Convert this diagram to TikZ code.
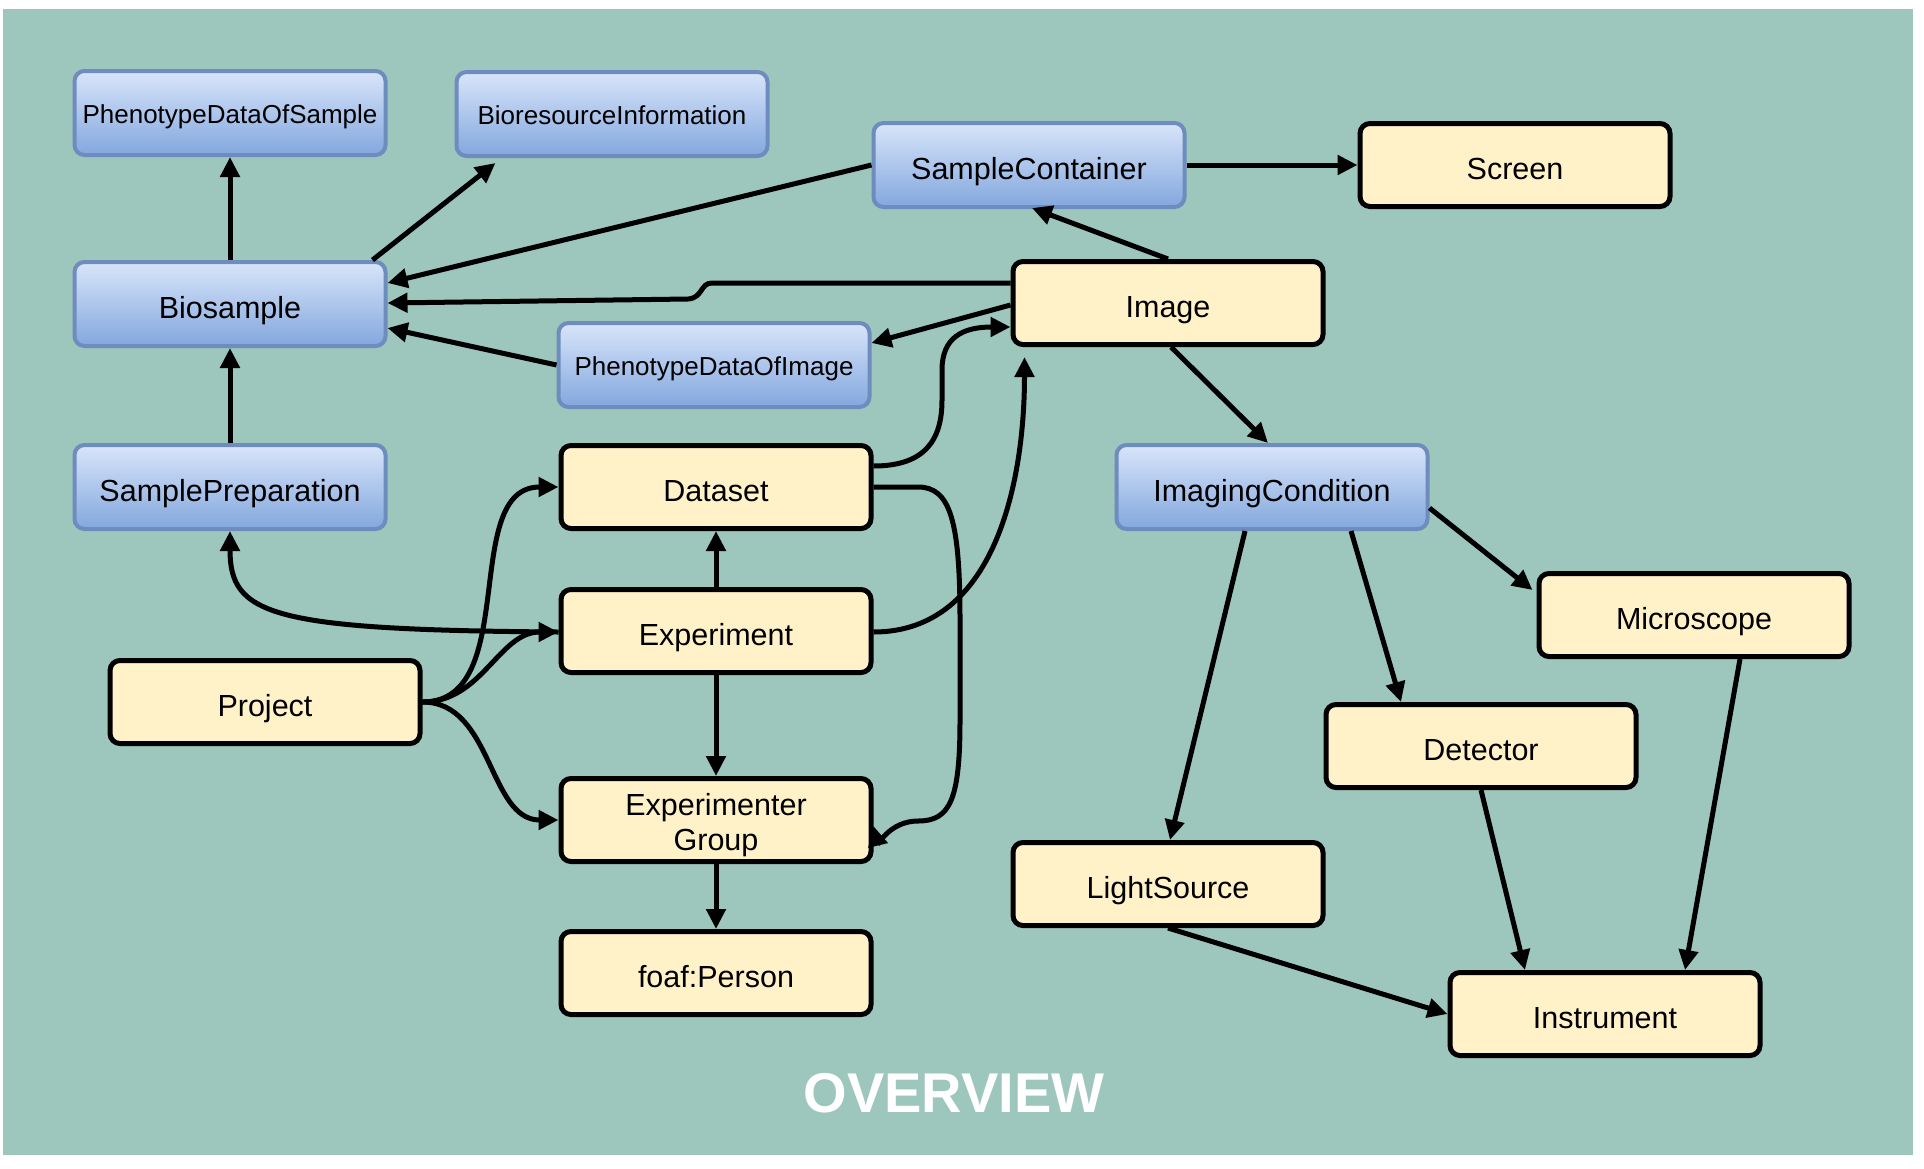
\documentclass[tikz,border=0pt]{standalone}
\usepackage{fontspec}
\setmainfont{Liberation Sans}
\usetikzlibrary{arrows.meta,calc}
\definecolor{bg}{RGB}{157,198,189}
\definecolor{ybox}{RGB}{255,242,201}
\definecolor{btop}{RGB}{216,229,250}
\definecolor{bbot}{RGB}{131,167,222}
\definecolor{bline}{RGB}{110,141,190}
\begin{document}
\begin{tikzpicture}[x=1pt,y=-1pt,
  ybx/.style={draw=black, line width=5pt, fill=ybox, rounded corners=10pt,
    minimum width=310pt, minimum height=83pt, inner sep=0pt,
    font=\fontsize{30.5}{35}\selectfont, text height=28pt, text depth=0pt},
  bbx/.style={draw=bline, line width=4pt, top color=btop, bottom color=bbot,
    rounded corners=10pt, minimum width=311pt, minimum height=84pt, inner sep=0pt,
    font=\fontsize{30.5}{35}\selectfont, text height=28pt, text depth=0pt},
  sm/.style={font=\fontsize{26}{30}\selectfont, text height=20pt},
  arr/.style={line width=5pt, -{Triangle[length=20pt,width=19pt]}}
]
\useasboundingbox (0,0) rectangle (1924,1168);
\fill[white] (0,0) rectangle (1924,1168);
\fill[bg] (3,9) rectangle (1913,1155);

\node[bbx,sm] (pds) at (230,113) {PhenotypeDataOfSample};
\node[bbx,sm] (bri) at (612,114) {BioresourceInformation};
\node[bbx] (sc) at (1029,165) {SampleContainer};
\node[ybx] (screen) at (1515,165) {Screen};
\node[bbx] (bio) at (230,304) {Biosample};
\node[ybx] (img) at (1168,303) {Image};
\node[bbx,sm] (pdi) at (714,365) {PhenotypeDataOfImage};
\node[bbx] (sp) at (230,487) {SamplePreparation};
\node[ybx] (ds) at (716,487) {Dataset};
\node[bbx] (ic) at (1272,487) {ImagingCondition};
\node[ybx] (exp) at (716,631) {Experiment};
\node[ybx] (mic) at (1694,615) {Microscope};
\node[ybx] (proj) at (265,702) {Project};
\node[ybx] (det) at (1481,746) {Detector};
\node[ybx, text height=51pt, text depth=27pt] (eg) at (716,820) {\begin{tabular}{@{}c@{}}Experimenter\\Group\end{tabular}};
\node[ybx] (ls) at (1168,884) {LightSource};
\node[ybx] (foaf) at (716,973) {foaf:Person};
\node[ybx] (ins) at (1605,1014) {Instrument};
\node[font=\fontsize{56}{60}\selectfont\bfseries, text=white] (title) at (954,1093) {OVERVIEW};

% Biosample cluster
\draw[arr] (bio.north) -- (pds.south);
\draw[arr] (sp.north) -- (bio.south);
\draw[arr] ($(bio.north east)+(-15,0)$) -- ($(bri.south west)+(41,5)$);
\draw[arr] (sc.west) -- ($(bio.east)+(0,-21)$);
\draw[arr] ($(img.west)+(0,-20)$) -- (712,283) .. controls (700,283) and (703,298) .. (688,299) -- ($(bio.east)+(0,-1)$);
\draw[arr] (pdi.west) -- ($(bio.east)+(0,24)$);
\draw[arr] ($(img.west)+(0,2)$) -- ($(pdi.east)+(0,-22)$);
\draw[arr] (img.north) -- ($(sc.south)+(3,-1)$);
\draw[arr] (sc.east) -- (screen.west);
\draw[arr] ($(img.south)+(3,0)$) -- ($(ic.north)+(-4,0)$);

% Dataset / Experiment
\draw[arr] ($(ds.east)+(0,-21)$) .. controls (925,466) and (942,440) .. (942,400)
  -- (942,370) .. controls (942,338) and (962,327) .. ($(img.west)+(0,24)$);
\draw[arr] ($(exp.east)+(0,1)$) to[out=0,in=-90] ($(img.south west)+(14,10)$);
\draw[arr] (ds.east) -- (918,487) .. controls (950,487) and (960,520) .. (960,620)
  -- (960,720) .. controls (960,800) and (950,821) .. (918,821)
  .. controls (890,821) and (878,845) .. ($(eg.east)+(0,6)$);
\draw[arr] (exp.north) -- (ds.south);
\draw[arr] (exp.south) -- (eg.north);
\draw[arr] (eg.south) -- (foaf.north);
\draw[arr] ($(exp.west)+(0,1)$) .. controls (270,630) and (230,615) .. (sp.south);

% Project
\draw[arr] (proj.east) to[out=0,in=180] (ds.west);
\draw[arr] (proj.east) to[out=0,in=180] ($(exp.west)+(0,1)$);
\draw[arr] (proj.east) to[out=0,in=180] (eg.west);

% Instrument side
\draw[arr] ($(ic.south)+(-27,0)$) -- ($(ls.north)+(2,0)$);
\draw[arr] ($(ic.south)+(79,0)$) -- ($(det.north)+(-80,0)$);
\draw[arr] ($(ic.east)+(0,21)$) -- ($(mic.north west)+(-4,19)$);
\draw[arr] ($(mic.south)+(46,0)$) -- ($(ins.north)+(80,0)$);
\draw[arr] (det.south) -- ($(ins.north)+(-80,0)$);
\draw[arr] (ls.south) -- (ins.west);
\end{tikzpicture}
\end{document}
